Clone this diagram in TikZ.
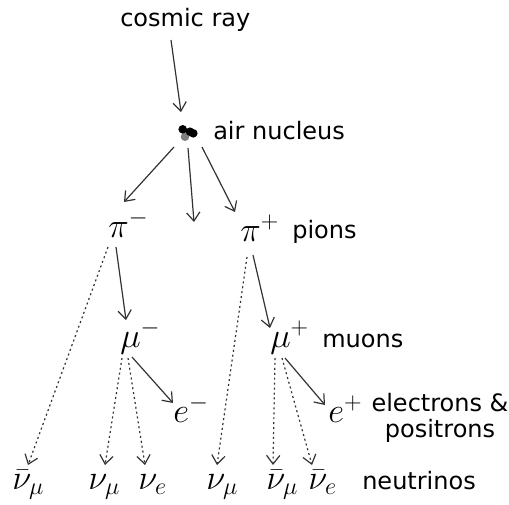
\RequirePackage{fix-cm}
\documentclass[tikz,border=0pt]{standalone}
\usepackage{fontspec}
\newfontfamily\lab{DejaVu Sans}
\usetikzlibrary{arrows.meta,calc}
\begin{document}
\begin{tikzpicture}[x=0.75pt,y=-0.75pt,
  txt/.style={font=\lab\fontsize{18}{19}\selectfont,inner sep=0pt,anchor=base west},
  mth/.style={font=\fontsize{26}{30}\selectfont,inner sep=0pt,anchor=base west},
  arr/.style={draw=black!80,line width=0.9pt,-{Straight Barb[length=6.5pt,width=10pt]}},
  dot/.style={arr,dash pattern=on 1.5pt off 2.2pt}]
\useasboundingbox (0,0) rectangle (509,504);
% texts
\node[txt] (cr) at (120,26) {cosmic ray};
\node[txt] (an) at (213,139) {air nucleus};
\node[txt] (pions) at (292,238) {pions};
\node[txt] (muons) at (322,347) {muons};
\node[txt,anchor=base,align=center] (ep-lab) at (440,437) {electrons \&\\positrons};
\node[txt] (neu) at (362,489) {neutrinos};
% nucleus
\node[circle,minimum size=20,inner sep=0pt] (nuc) at (187,133) {};
\fill[gray] (185,136.7) circle (4.3);
\fill[black] (182.7,129.3) circle (4.3);
\fill[black] (190,131.7) circle (4.3);
\fill[black] (193.3,133.3) circle (4.3);
% particles
\node[mth] (pim) at (108,237) {$\pi^-$};
\node[mth] (pip) at (240,241) {$\pi^+$};
\node[mth] (mum) at (120,347) {$\mu^-$};
\node[mth] (mup) at (270,347) {$\mu^+$};
\node[mth] (em) at (173,422) {$e^-$};
\node[mth] (ep) at (328,422) {$e^+$};
\node[mth] (n1) at (12,489) {$\bar\nu_\mu$};
\node[mth] (n2) at (88,489) {$\nu_\mu$};
\node[mth] (n3) at (138,489) {$\nu_e$};
\node[mth] (n4) at (206,489) {$\nu_\mu$};
\node[mth] (n5) at (266,489) {$\bar\nu_\mu$};
\node[mth] (n6) at (308,489) {$\bar\nu_e$};
\coordinate (pizero) at (194,222);
% connectors
\draw[arr] ($(cr.base west)+(51,14)$) -- ($(nuc.center)+(-6,-21)$);
\draw[arr] ($(nuc.center)+(-13,14)$) -- ($(pim.base west)+(16,-35)$);
\draw[arr] ($(nuc.center)+(1,15)$) -- (pizero);
\draw[arr] ($(nuc.center)+(15,14)$) -- ($(pip.base west)+(-5,-29)$);
\draw[arr] ($(pim.base west)+(8,10)$) -- ($(mum.base west)+(6,-27)$);
\draw[dot] ($(pim.base west)+(0,10)$) -- ($(n1.base west)+(16,-24)$);
\draw[arr] ($(pip.base west)+(13,14)$) -- ($(mup.base west)+(0,-19)$);
\draw[dot] ($(pip.base west)+(7,16)$) -- ($(n4.base west)+(11,-24)$);
\draw[arr] ($(mum.base west)+(12,10)$) -- ($(em.base west)+(0,-19)$);
\draw[dot] ($(mum.base west)+(2,11)$) -- ($(n2.base west)+(17,-24)$);
\draw[dot] ($(mum.base west)+(8,11)$) -- ($(n3.base west)+(7,-24)$);
\draw[arr] ($(mup.base west)+(15,11)$) -- ($(ep.base west)+(-3,-17)$);
\draw[dot] ($(mup.base west)+(5,11)$) -- ($(n5.base west)+(7,-24)$);
\draw[dot] ($(mup.base west)+(12,11)$) -- ($(n6.base west)+(4,-24)$);
\end{tikzpicture}
\end{document}
